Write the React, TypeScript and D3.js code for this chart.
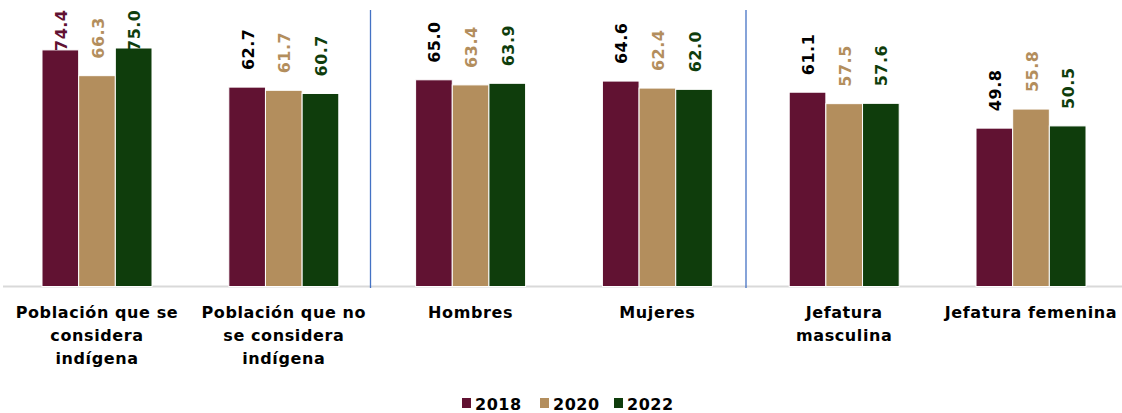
import React from "react";
import * as d3 from "d3";

const categories: string[][] = [
  ["Población que se", "considera", "indígena"],
  ["Población que no", "se considera", "indígena"],
  ["Hombres"],
  ["Mujeres"],
  ["Jefatura", "masculina"],
  ["Jefatura femenina"],
];
const years = ["2018", "2020", "2022"];
const values2018 = [74.4, 62.7, 65.0, 64.6, 61.1, 49.8];
const values2020 = [66.3, 61.7, 63.4, 62.4, 57.5, 55.8];
const values2022 = [75.0, 60.7, 63.9, 62.0, 57.6, 50.5];
const seriesValues = [values2018, values2020, values2022];
const barColors = ["#611232", "#B38E5D", "#0F3D0C"];
const labelColors2018 = ["#611232", "#000000", "#000000", "#000000", "#000000", "#000000"];
const labelColors = [labelColors2018, Array(6).fill("#B38E5D"), Array(6).fill("#0F3D0C")];

const W = 1122;
const H = 413;
const FONT = "'DejaVu Sans', sans-serif";

export default function App() {
  const x0 = d3
    .scaleBand<number>()
    .domain(d3.range(categories.length))
    .range([3.6, 3.6 + 186.8 * 6])
    .paddingInner(0)
    .paddingOuter(0);
  const groupW = 110;
  const x1 = d3.scaleBand<number>().domain([0, 1, 2]).range([0, groupW]).padding(0);
  const y = d3.scaleLinear().domain([0, 80]).range([286.5, 286.5 - 80 * 3.18]);
  const baseY = y(0);
  const labelTopMin = 11;
  const labelLen = 40;

  const sepX = [370.5, 746];

  return (
    <svg width={W} height={H} style={{ position: "absolute", left: 0, top: 0 }} fontFamily={FONT}>
      <rect x={0} y={0} width={W} height={H} fill="#fff" />
      <line x1={3} x2={W} y1={baseY} y2={baseY} stroke="#d9d9d9" strokeWidth={2} />
      {sepX.map((sx, i) => (
        <line key={i} x1={sx} x2={sx} y1={10} y2={288} stroke="#4472C4" strokeWidth={1.3} />
      ))}
      {categories.map((lines, ci) => {
        const gx = (x0(ci) as number) + x0.bandwidth() / 2 - groupW / 2;
        return (
          <g key={ci}>
            {seriesValues.map((vals, si) => {
              const bx = gx + (x1(si) as number);
              const by = y(vals[ci]);
              const cx = bx + x1.bandwidth() / 2;
              let ly = by - 17;
              if (ly - labelLen < labelTopMin) ly = labelTopMin + labelLen;
              return (
                <g key={si}>
                  <rect
                    x={bx}
                    y={by}
                    width={x1.bandwidth()}
                    height={baseY - by}
                    fill={barColors[si]}
                    stroke="#ffffff"
                    strokeWidth={1}
                  />
                  <text
                    transform={`translate(${cx + 6.5},${ly}) rotate(-90)`}
                    fontSize={16}
                    fontWeight="bold"
                    letterSpacing={0.5}
                    fill={labelColors[si][ci]}
                  >
                    {vals[ci].toFixed(1)}
                  </text>
                </g>
              );
            })}
            <text textAnchor="middle" fontSize={16} letterSpacing={0.6} fontWeight="bold" fill="#000">
              {lines.map((ln, li) => (
                <tspan key={li} x={(x0(ci) as number) + x0.bandwidth() / 2} y={318 + li * 23}>
                  {ln}
                </tspan>
              ))}
            </text>
          </g>
        );
      })}
      {years.map((yr, i) => {
        const lx = [462, 540, 614][i];
        return (
          <g key={yr}>
            <rect x={lx} y={398} width={9} height={10} fill={barColors[i]} />
            <text x={lx + 13} y={410} fontSize={16} letterSpacing={0.5} fontWeight="bold" fill="#000">
              {yr}
            </text>
          </g>
        );
      })}
    </svg>
  );
}
